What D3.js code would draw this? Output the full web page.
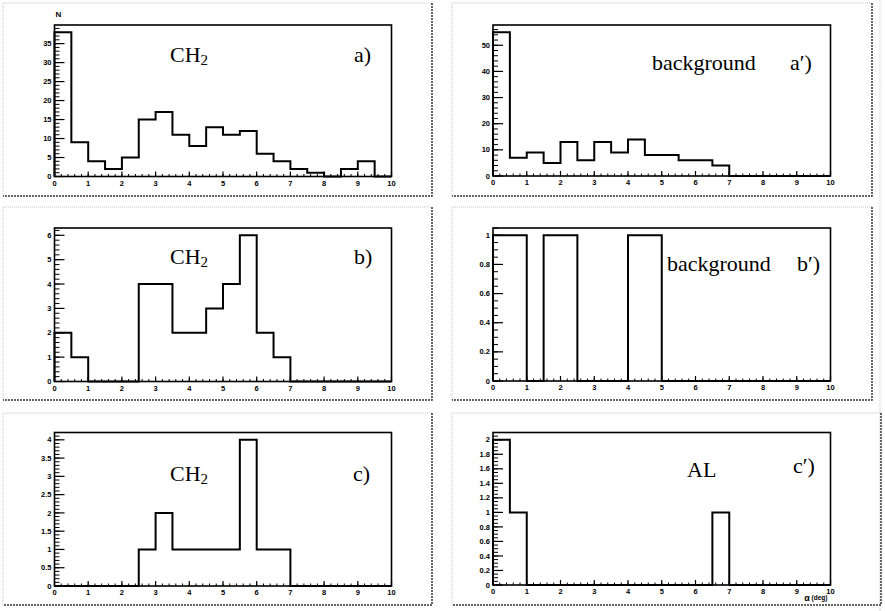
<!DOCTYPE html>
<html>
<head>
<meta charset="utf-8">
<script src="https://cdn.jsdelivr.net/npm/d3@7"></script>
<style>
  body { margin: 0; background: #fff; }
  svg { display: block; }
</style>
</head>
<body>
<svg id="canvas" width="885" height="611"></svg>
<script>
// ---- data: angular distributions, 0.5 deg bins from 0 to 10 deg ----
const binEdges = [0, 0.5, 1, 1.5, 2, 2.5, 3, 3.5, 4, 4.5, 5, 5.5, 6, 6.5, 7, 7.5, 8, 8.5, 9, 9.5, 10];
const xTickValues = [0, 1, 2, 3, 4, 5, 6, 7, 8, 9, 10];
const xTickLabels = ["0", "1", "2", "3", "4", "5", "6", "7", "8", "9", "10"];

const countsA  = [38, 9, 4, 2, 5, 15, 17, 11, 8, 13, 11, 12, 6, 4, 2, 1, 0, 2, 4, 0];
const countsA2 = [55, 7, 9, 5, 13, 6, 13, 9, 14, 8, 8, 6, 6, 4, 0, 0, 0, 0, 0, 0];
const countsB  = [2, 1, 0, 0, 0, 4, 4, 2, 2, 3, 4, 6, 2, 1, 0, 0, 0, 0, 0, 0];
const countsB2 = [1, 1, 0, 1, 1, 0, 0, 0, 1, 1, 0, 0, 0, 0, 0, 0, 0, 0, 0, 0];
const countsC  = [0, 0, 0, 0, 0, 1, 2, 1, 1, 1, 1, 4, 1, 1, 0, 0, 0, 0, 0, 0];
const countsC2 = [2, 1, 0, 0, 0, 0, 0, 0, 0, 0, 0, 0, 0, 1, 0, 0, 0, 0, 0, 0];

const yTicksA  = [0, 5, 10, 15, 20, 25, 30, 35];
const yLabelsA = ["0", "5", "10", "15", "20", "25", "30", "35"];
const yTicksA2  = [0, 10, 20, 30, 40, 50];
const yLabelsA2 = ["0", "10", "20", "30", "40", "50"];
const yTicksB  = [0, 1, 2, 3, 4, 5, 6];
const yLabelsB = ["0", "1", "2", "3", "4", "5", "6"];
const yTicksB2  = [0, 0.2, 0.4, 0.6, 0.8, 1];
const yLabelsB2 = ["0", "0.2", "0.4", "0.6", "0.8", "1"];
const yTicksC  = [0, 0.5, 1, 1.5, 2, 2.5, 3, 3.5, 4];
const yLabelsC = ["0", "0.5", "1", "1.5", "2", "2.5", "3", "3.5", "4"];
const yTicksC2  = [0, 0.2, 0.4, 0.6, 0.8, 1, 1.2, 1.4, 1.6, 1.8, 2];
const yLabelsC2 = ["0", "0.2", "0.4", "0.6", "0.8", "1", "1.2", "1.4", "1.6", "1.8", "2"];

// ---- layout of the six pads ----
const pads = [
  { counts: countsA,  yTicks: yTicksA,  yLabels: yLabelsA,  yMinor: 1,
    frame: [3, 3, 432, 196],     plot: [54.5, 25, 391.5, 176.5],
    target: "CH", sub: "2", tx: 170, ty: 62, tag: "a)", gx: 354, gy: 62, yTitle: "N" },
  { counts: countsA2, yTicks: yTicksA2, yLabels: yLabelsA2, yMinor: 2,
    frame: [452, 3, 872, 196],   plot: [493, 25, 830.5, 176],
    target: "background", tx: 652, ty: 70, tag: "a\u2032)", gx: 790, gy: 70 },
  { counts: countsB,  yTicks: yTicksB,  yLabels: yLabelsB,  yMinor: 0.2,
    frame: [3, 207, 432, 400],   plot: [54.5, 228, 391.5, 381.5],
    target: "CH", sub: "2", tx: 170, ty: 264, tag: "b)", gx: 354, gy: 264 },
  { counts: countsB2, yTicks: yTicksB2, yLabels: yLabelsB2, yMinor: 0.05,
    frame: [452, 207, 872, 400], plot: [493, 228, 830.5, 381],
    target: "background", tx: 667, ty: 271, tag: "b\u2032)", gx: 797, gy: 271 },
  { counts: countsC,  yTicks: yTicksC,  yLabels: yLabelsC,  yMinor: 0.1,
    frame: [3, 413, 432, 605],   plot: [54.5, 432.5, 391.5, 586],
    target: "CH", sub: "2", tx: 170, ty: 481, tag: "c)", gx: 353, gy: 481 },
  { counts: countsC2, yTicks: yTicksC2, yLabels: yLabelsC2, yMinor: 0.05,
    frame: [452, 413, 881, 605], plot: [493, 432.5, 830.5, 585],
    target: "AL", tx: 687, ty: 477, tag: "c\u2032)", gx: 793, gy: 473, xTitle: true }
];

const svg = d3.select("#canvas");
const tickFont = "'Liberation Sans', Arial, sans-serif";
const textFont = "'Liberation Serif', 'Times New Roman', serif";

// faint outer page rule on the right
svg.append("line")
  .attr("x1", 880).attr("x2", 880).attr("y1", 0).attr("y2", 611)
  .attr("stroke", "#c8c8c8").attr("stroke-width", 1).attr("stroke-dasharray", "1,1");

pads.forEach(p => {
  const g = svg.append("g");
  const [fx0, fy0, fx1, fy1] = p.frame;
  const [L, T, R, B] = p.plot;

  // pad border: light top/left, dark bottom/right
  g.append("path")
    .attr("d", `M${fx0},${fy1} L${fx0},${fy0} L${fx1},${fy0}`)
    .attr("fill", "none").attr("stroke", "#c4c4c4").attr("stroke-width", 1)
    .attr("stroke-dasharray", "1,1");
  g.append("path")
    .attr("d", `M${fx1},${fy0} L${fx1},${fy1} L${fx0},${fy1}`)
    .attr("fill", "none").attr("stroke", "#333").attr("stroke-width", 1.5)
    .attr("stroke-dasharray", "2,1");

  const x = d3.scaleLinear().domain([binEdges[0], binEdges[binEdges.length - 1]]).range([L, R]);
  const yMax = d3.max(p.counts) * 1.05;
  const y = d3.scaleLinear().domain([0, yMax]).range([B, T]);

  // x-axis ticks (inside, pointing up)
  const xMinor = d3.range(0, 10.0001, 0.2);
  g.selectAll(null).data(xMinor).enter().append("line")
    .attr("x1", d => x(d)).attr("x2", d => x(d))
    .attr("y1", B).attr("y2", B - 2.5)
    .attr("stroke", "#000").attr("stroke-width", 1);
  g.selectAll(null).data(xTickValues).enter().append("line")
    .attr("x1", d => x(d)).attr("x2", d => x(d))
    .attr("y1", B).attr("y2", B - 5)
    .attr("stroke", "#000").attr("stroke-width", 1.2);
  g.selectAll(null).data(xTickValues).enter().append("text")
    .attr("x", d => x(d)).attr("y", B + 9)
    .attr("text-anchor", "middle")
    .attr("font-family", tickFont).attr("font-weight", "bold").attr("font-size", 7.5)
    .text((d, i) => xTickLabels[i]);

  // y-axis ticks (inside, pointing right)
  const yMinor = d3.range(0, yMax + 1e-9, p.yMinor);
  g.selectAll(null).data(yMinor).enter().append("line")
    .attr("x1", L).attr("x2", L + 5)
    .attr("y1", d => y(d)).attr("y2", d => y(d))
    .attr("stroke", "#000").attr("stroke-width", 1);
  g.selectAll(null).data(p.yTicks).enter().append("line")
    .attr("x1", L).attr("x2", L + 10)
    .attr("y1", d => y(d)).attr("y2", d => y(d))
    .attr("stroke", "#000").attr("stroke-width", 1.2);
  g.selectAll(null).data(p.yTicks).enter().append("text")
    .attr("x", L - 3).attr("y", d => y(d) + 2.6)
    .attr("text-anchor", "end")
    .attr("font-family", tickFont).attr("font-weight", "bold").attr("font-size", 7.5)
    .text((d, i) => p.yLabels[i]);

  // histogram outline
  let d = `M${x(binEdges[0])},${y(0)}`;
  p.counts.forEach((v, i) => {
    d += ` L${x(binEdges[i])},${y(v)} L${x(binEdges[i + 1])},${y(v)}`;
  });
  d += ` L${x(binEdges[binEdges.length - 1])},${y(0)}`;
  g.append("path").attr("d", d)
    .attr("fill", "none").attr("stroke", "#000").attr("stroke-width", 2)
    .attr("stroke-linejoin", "miter");

  // plot frame
  g.append("rect")
    .attr("x", L).attr("y", T).attr("width", R - L).attr("height", B - T)
    .attr("fill", "none").attr("stroke", "#000").attr("stroke-width", 1.6);

  // target label
  const t = g.append("text")
    .attr("x", p.tx).attr("y", p.ty)
    .attr("font-family", textFont).attr("font-size", 22).attr("fill", "#000");
  t.append("tspan").text(p.target);
  if (p.sub) {
    t.append("tspan").attr("font-size", 15).attr("dy", 3).text(p.sub);
  }
  g.append("text")
    .attr("x", p.gx).attr("y", p.gy)
    .attr("font-family", textFont).attr("font-size", 22).attr("fill", "#000")
    .text(p.tag);

  if (p.yTitle) {
    g.append("text")
      .attr("x", L + 1).attr("y", T - 8)
      .attr("font-family", tickFont).attr("font-weight", "bold").attr("font-size", 8)
      .text(p.yTitle);
  }
  if (p.xTitle) {
    const xt = g.append("text")
      .attr("x", R - 3).attr("y", B + 16)
      .attr("text-anchor", "end")
      .attr("font-family", tickFont).attr("font-weight", "bold").attr("font-size", 9);
    xt.append("tspan").text("\u03b1");
    xt.append("tspan").attr("font-size", 6.5).attr("dy", -1).text(" (deg)");
  }
});
</script>
</body>
</html>
